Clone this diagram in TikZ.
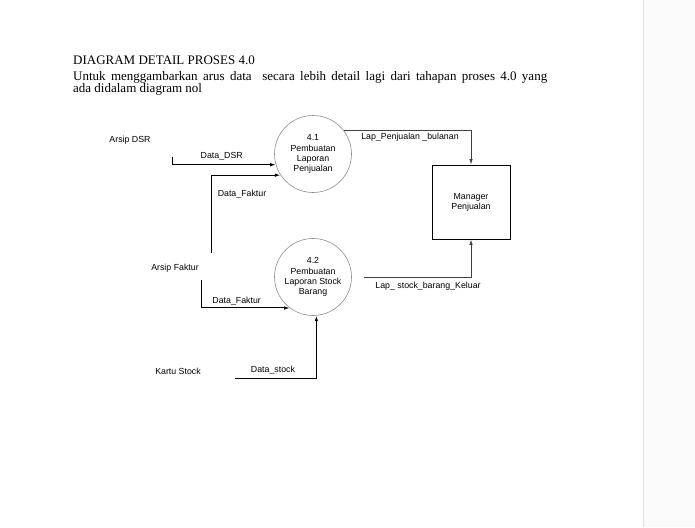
\documentclass[tikz,border=0pt]{standalone}
\usepackage{fontspec}
\setmainfont{Liberation Serif}
\newfontfamily\dfdfont{Liberation Sans}
\usetikzlibrary{arrows.meta}
\begin{document}
\begin{tikzpicture}[x=1pt, y=-1pt,
    every node/.style={font=\dfdfont\fontsize{8.8}{10.2}\selectfont, inner sep=0pt},
    proses/.style={circle, draw=black!45, line width=0.6pt, minimum size=77pt, align=center},
    entitas/.style={draw, line width=0.9pt, minimum width=78pt, minimum height=74pt, align=center},
    flow/.style={line width=1pt, -{Latex[length=5.5pt, width=3.5pt]}},
    hasil/.style={line width=0.8pt, black!75, -{Latex[length=5.5pt, width=3.5pt]}},
    judul/.style={font=\fontsize{13}{13}\selectfont, anchor=base west}]
  \useasboundingbox (0,0) rectangle (695,527);
  % page edge
  \fill[black!2] (643,0) rectangle (695,527);
  \draw[black!12] (643,0) -- (643,527);
  % heading
  \node[judul] (jdl) at (73,64.3) {DIAGRAM DETAIL PROSES 4.0};
  \node[judul] (ket1) at (73,80.3) {\makebox[474pt][s]{Untuk menggambarkan arus data\ \ secara lebih detail lagi dari tahapan proses 4.0 yang}};
  \node[judul] (ket2) at (73,92.6) {ada didalam diagram nol};
  % processes and entities
  \node[proses] (p41) at (313,154) {4.1\\Pembuatan\\Laporan\\Penjualan};
  \node[proses] (p42) at (313,277) {4.2\\Pembuatan\\Laporan Stock\\Barang};
  \node[entitas] (mgr) at (471,202) {Manager\\Penjualan};
  \node (dsr) at (130,140) {Arsip DSR};
  \node (faktur) at (175,268) {Arsip Faktur};
  \node (kartu) at (178,371) {Kartu Stock};
  % free ends of the flows
  \coordinate (dsrA) at (172.7,156.7);
  \coordinate (fakA) at (211.7,253);
  \coordinate (fakB) at (201.7,280);
  \coordinate (stkA) at (235,378);
  % data flows
  \draw[flow] (dsrA) |- (p41.196.6);
  \draw[flow] (fakA) |- (p41.213);
  \draw[flow] (fakB) |- (p42.233.6);
  \draw[flow] (stkA) -| (p42.275.5);
  \draw[hasil] (p41.37) -| (mgr.north);
  \draw[hasil] ([xshift=12pt]p42.east) -| (mgr.south);
  % flow labels
  \node (lDSR) at (221.7,156) {Data\_DSR};
  \node (lFak1) at (242,194) {Data\_Faktur};
  \node (lFak2) at (236.7,301) {Data\_Faktur};
  \node (lStk) at (273,370) {Data\_stock};
  \node (lLap1) at (410,137.7) {Lap\_Penjualan \_bulanan};
  \node (lLap2) at (428,286.7) {Lap\_ stock\_barang\_Keluar};
\end{tikzpicture}
\end{document}
